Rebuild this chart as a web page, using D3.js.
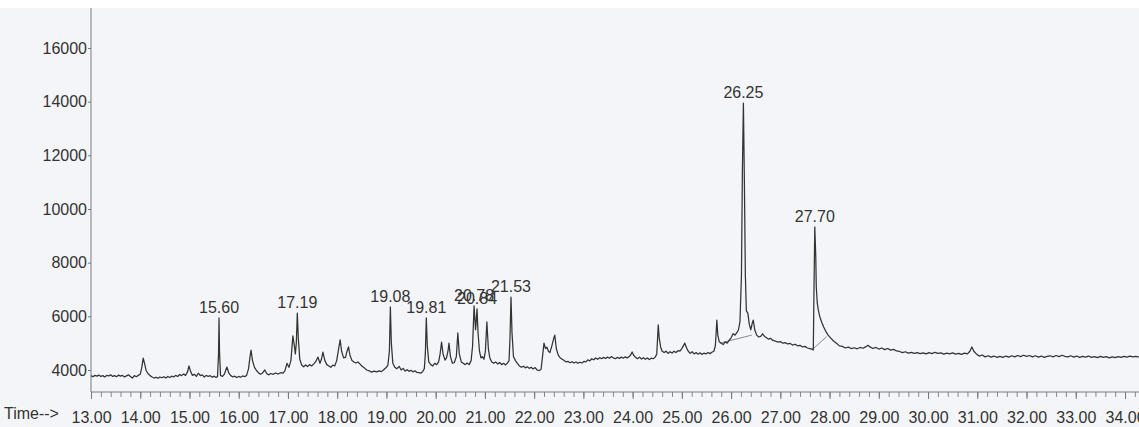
<!DOCTYPE html>
<html>
<head>
<meta charset="utf-8">
<script src="https://cdn.jsdelivr.net/npm/d3@7"></script>
<style>
  html, body { margin: 0; padding: 0; background: #ffffff; }
  svg { display: block; }
  text { font-family: "Liberation Sans", Arial, sans-serif; }
</style>
</head>
<body>
<svg id="chart" width="1139" height="427"></svg>
<script>
// Total ion chromatogram, retention time (min) vs abundance
const ticPoints = [
  [13.00,3790],[13.04,3750],[13.08,3800],[13.12,3770],[13.16,3810],[13.20,3760],[13.24,3790],[13.28,3740],
  [13.32,3800],[13.36,3780],[13.40,3820],[13.44,3760],[13.48,3790],[13.52,3750],[13.56,3810],[13.60,3770],
  [13.64,3800],[13.68,3740],[13.72,3780],[13.76,3820],[13.80,3760],[13.84,3700],[13.88,3790],[13.92,3750],
  [13.96,3800],[14.00,3840],[14.03,4080],[14.06,4440],[14.09,4230],[14.12,3980],[14.16,3860],[14.20,3790],
  [14.24,3740],[14.28,3700],[14.32,3730],[14.36,3690],[14.40,3740],[14.44,3710],[14.48,3750],[14.52,3700],
  [14.56,3760],[14.60,3720],[14.64,3770],[14.68,3740],[14.72,3800],[14.76,3760],[14.80,3830],[14.84,3790],
  [14.88,3850],[14.92,3800],[14.96,3930],[14.99,4150],[15.02,3960],[15.06,3800],[15.10,3840],[15.14,3760],
  [15.18,3880],[15.22,3790],[15.26,3820],[15.30,3740],[15.34,3800],[15.38,3760],[15.42,3790],[15.46,3730],
  [15.50,3770],[15.54,3720],[15.57,3760],[15.59,4600],[15.60,5940],[15.61,4700],[15.63,3800],[15.67,3760],
  [15.71,3850],[15.76,4110],[15.80,3880],[15.84,3790],[15.88,3740],[15.92,3770],[15.96,3720],[16.00,3760],
  [16.04,3730],[16.08,3780],[16.12,3750],[16.16,3800],[16.20,4050],[16.23,4500],[16.25,4740],[16.28,4350],
  [16.32,4100],[16.36,3980],[16.40,3900],[16.44,3840],[16.48,3880],[16.53,4000],[16.57,3860],[16.61,3820],
  [16.65,3870],[16.70,3840],[16.75,3890],[16.80,3850],[16.85,3900],[16.90,3880],[16.94,3980],[16.98,4250],
  [17.02,4100],[17.06,4350],[17.10,5270],[17.13,4900],[17.15,4600],[17.17,5000],[17.19,6120],[17.21,5200],
  [17.24,4400],[17.28,4180],[17.32,4120],[17.36,4190],[17.40,4130],[17.44,4200],[17.48,4150],[17.52,4220],
  [17.56,4300],[17.61,4480],[17.65,4250],[17.68,4400],[17.71,4670],[17.75,4350],[17.79,4200],[17.83,4150],
  [17.87,4100],[17.91,4180],[17.95,4150],[17.99,4350],[18.03,4800],[18.06,5120],[18.09,4700],[18.13,4450],
  [18.17,4480],[18.20,4700],[18.23,4860],[18.26,4550],[18.30,4350],[18.34,4300],[18.38,4260],[18.42,4300],
  [18.46,4230],[18.50,4150],[18.55,4080],[18.60,4000],[18.65,3970],[18.70,3920],[18.75,3960],[18.80,3930],
  [18.85,3970],[18.90,3940],[18.95,4020],[19.00,4100],[19.03,4180],[19.06,4700],[19.08,6350],[19.10,5000],
  [19.13,4250],[19.17,4100],[19.21,4050],[19.26,4130],[19.30,4000],[19.34,4060],[19.38,3960],[19.42,4010],
  [19.46,3950],[19.50,3990],[19.54,3930],[19.58,3970],[19.62,3910],[19.66,3900],[19.70,3880],[19.74,3950],
  [19.77,4050],[19.79,4600],[19.81,5940],[19.83,4900],[19.86,4300],[19.90,4200],[19.94,4150],[19.98,4250],
  [20.02,4200],[20.06,4300],[20.09,4600],[20.12,5040],[20.15,4600],[20.19,4370],[20.22,4450],[20.25,4700],
  [20.27,5000],[20.30,4500],[20.34,4250],[20.38,4280],[20.42,4500],[20.45,5380],[20.48,4600],[20.52,4300],
  [20.56,4250],[20.60,4200],[20.64,4260],[20.68,4200],[20.72,4350],[20.75,4900],[20.78,6390],[20.80,5800],
  [20.81,5500],[20.82,5700],[20.84,6280],[20.86,5400],[20.89,4700],[20.92,4450],[20.95,4500],[20.98,4400],
  [21.01,4700],[21.04,5790],[21.07,4800],[21.10,4450],[21.14,4300],[21.18,4250],[21.22,4300],[21.26,4220],
  [21.30,4280],[21.34,4200],[21.38,4250],[21.42,4190],[21.46,4260],[21.49,4350],[21.51,5200],[21.53,6720],
  [21.55,5400],[21.58,4500],[21.62,4350],[21.66,4250],[21.70,4150],[21.74,4100],[21.78,4140],[21.82,4080],
  [21.86,4120],[21.90,4060],[21.94,4100],[21.98,4040],[22.02,4090],[22.06,4000],[22.10,3980],[22.14,4020],
  [22.17,4500],[22.20,5000],[22.23,4800],[22.26,4850],[22.29,4700],[22.32,4650],[22.36,4900],[22.40,5200],
  [22.42,5300],[22.45,4800],[22.49,4550],[22.53,4450],[22.57,4400],[22.61,4350],[22.65,4300],[22.69,4320],
  [22.73,4270],[22.77,4310],[22.81,4260],[22.85,4300],[22.89,4250],[22.93,4290],[22.97,4260],[23.01,4320],
  [23.05,4300],[23.09,4380],[23.13,4340],[23.17,4420],[23.21,4380],[23.25,4450],[23.29,4400],[23.33,4460],
  [23.37,4420],[23.41,4470],[23.45,4430],[23.49,4480],[23.53,4440],[23.57,4500],[23.61,4450],[23.65,4420],
  [23.69,4470],[23.73,4430],[23.77,4480],[23.81,4440],[23.85,4490],[23.89,4450],[23.93,4500],[23.96,4560],
  [23.99,4670],[24.02,4550],[24.06,4470],[24.10,4420],[24.14,4480],[24.18,4410],[24.22,4460],[24.26,4400],
  [24.30,4450],[24.34,4390],[24.38,4440],[24.42,4420],[24.46,4480],[24.49,4600],[24.51,5300],[24.52,5680],
  [24.54,5200],[24.57,4850],[24.60,4700],[24.64,4650],[24.68,4700],[24.72,4620],[24.76,4680],[24.80,4630],
  [24.84,4700],[24.88,4650],[24.92,4720],[24.96,4700],[25.00,4800],[25.03,4900],[25.06,5000],[25.09,4850],
  [25.13,4700],[25.17,4620],[25.21,4680],[25.25,4600],[25.29,4650],[25.33,4590],[25.37,4640],[25.41,4580],
  [25.45,4630],[25.49,4600],[25.53,4650],[25.57,4610],[25.61,4660],[25.65,4700],[25.68,4900],[25.70,5500],
  [25.71,5860],[25.73,5300],[25.76,5050],[25.80,5000],[25.84,4950],[25.88,5050],[25.92,5000],[25.96,5100],
  [26.00,5200],[26.04,5350],[26.08,5300],[26.12,5400],[26.15,5500],[26.18,5800],[26.21,7500],[26.23,11500],
  [26.25,13950],[26.27,11000],[26.29,7500],[26.31,6200],[26.34,6120],[26.37,5700],[26.40,5500],[26.43,5750],
  [26.45,5860],[26.48,5500],[26.52,5300],[26.56,5230],[26.60,5250],[26.64,5350],[26.68,5250],[26.72,5200],
  [26.76,5150],[26.80,5180],[26.85,5100],[26.90,5080],[26.95,5040],[27.00,5060],[27.05,5000],[27.10,5020],
  [27.15,4970],[27.20,4990],[27.25,4930],[27.30,4960],[27.35,4900],[27.40,4920],[27.45,4860],[27.50,4880],
  [27.55,4820],[27.60,4800],[27.64,4780],[27.67,4750],[27.68,6500],[27.70,9330],[27.72,8200],[27.73,7100],
  [27.75,6500],[27.77,6250],[27.80,6000],[27.84,5780],[27.88,5600],[27.92,5450],[27.97,5300],[28.02,5200],
  [28.08,5080],[28.14,5000],[28.20,4900],[28.26,4880],[28.32,4820],[28.38,4850],[28.44,4800],[28.50,4830],
  [28.56,4790],[28.62,4840],[28.68,4810],[28.74,4870],[28.78,4920],[28.82,4860],[28.88,4800],[28.94,4840],
  [29.00,4780],[29.06,4820],[29.12,4760],[29.18,4800],[29.24,4740],[29.30,4770],[29.36,4710],[29.42,4690],
  [29.48,4650],[29.54,4680],[29.60,4630],[29.66,4660],[29.72,4620],[29.78,4650],[29.84,4610],[29.90,4640],
  [29.96,4600],[30.02,4650],[30.08,4610],[30.14,4660],[30.20,4620],[30.26,4640],[30.32,4590],[30.38,4630],
  [30.44,4600],[30.50,4640],[30.56,4590],[30.62,4620],[30.68,4580],[30.74,4630],[30.80,4600],[30.85,4700],
  [30.89,4860],[30.93,4700],[30.98,4600],[31.04,4520],[31.10,4560],[31.16,4490],[31.22,4530],[31.28,4480],
  [31.34,4520],[31.40,4470],[31.46,4510],[31.52,4470],[31.58,4520],[31.64,4480],[31.70,4530],[31.76,4490],
  [31.82,4540],[31.88,4500],[31.94,4550],[32.00,4510],[32.06,4540],[32.12,4490],[32.18,4530],[32.24,4480],
  [32.30,4520],[32.36,4470],[32.42,4510],[32.48,4530],[32.54,4490],[32.60,4540],[32.66,4500],[32.72,4550],
  [32.78,4510],[32.84,4490],[32.90,4530],[32.96,4480],[33.02,4520],[33.08,4470],[33.14,4510],[33.20,4480],
  [33.26,4520],[33.32,4470],[33.38,4500],[33.44,4460],[33.50,4510],[33.56,4470],[33.62,4500],[33.68,4450],
  [33.74,4490],[33.80,4460],[33.86,4500],[33.92,4470],[33.98,4510],[34.04,4480],[34.10,4520],[34.16,4490],
  [34.22,4510],[34.28,4480]
];

// Retention times annotated above their peaks
const peakLabels = [15.60, 17.19, 19.08, 19.81, 20.78, 20.84, 21.53, 26.25, 27.70];

// Integration baselines drawn under the two large peaks
const integrationLines = [
  [[25.77, 5000], [26.42, 5300]],
  [[27.64, 4750], [27.94, 5240]]
];

// Axis ticks
const yTicks = [4000, 6000, 8000, 10000, 12000, 14000, 16000];
const xMajorTicks = d3.range(13, 35, 1);
const xMinorTicks = d3.range(13, 34.3, 0.2).map(v => +v.toFixed(1));

const W = 1139, H = 427;
const plotLeft = 91, plotTop = 8, plotBottom = 392;

const svg = d3.select("#chart");

// paper tone of the plotting sheet
svg.append("rect").attr("x", 0).attr("y", 0).attr("width", W).attr("height", H).attr("fill", "#ffffff");
svg.append("rect").attr("x", 0).attr("y", plotTop).attr("width", W).attr("height", H - plotTop).attr("fill", "#f4f5f8");

const x = d3.scaleLinear().domain([13, 34]).range([plotLeft, 1125]);
const y = d3.scaleLinear().domain([4000, 16000]).range([370, 48]);

// y axis
const yAxis = d3.axisLeft(y).tickValues(yTicks).tickSize(3).tickPadding(1).tickFormat(d3.format("d"));
const gy = svg.append("g").attr("transform", `translate(${plotLeft},0)`).call(yAxis);
gy.select(".domain").remove();
gy.selectAll(".tick line").attr("stroke", "#777");
gy.selectAll(".tick text").attr("fill", "#333").style("font-size", "16px");
svg.append("line").attr("x1", plotLeft).attr("x2", plotLeft).attr("y1", plotTop).attr("y2", plotBottom)
  .attr("stroke", "#7a7a7a").attr("stroke-width", 1);

// x axis: minor ticks every 0.2 min, labelled major ticks every minute
const gxMinor = svg.append("g").attr("transform", `translate(0,${plotBottom})`)
  .call(d3.axisBottom(x).tickValues(xMinorTicks).tickSize(5).tickFormat(""));
gxMinor.select(".domain").remove();
gxMinor.selectAll(".tick line").attr("stroke", "#888");

const gxMajor = svg.append("g").attr("transform", `translate(0,${plotBottom})`)
  .call(d3.axisBottom(x).tickValues(xMajorTicks).tickSize(7).tickPadding(13).tickFormat(d3.format(".2f")));
gxMajor.select(".domain").remove();
gxMajor.selectAll(".tick line").attr("stroke", "#777");
gxMajor.selectAll(".tick text").attr("fill", "#333").style("font-size", "16px");

svg.append("line").attr("x1", plotLeft).attr("x2", W).attr("y1", plotBottom).attr("y2", plotBottom)
  .attr("stroke", "#7a7a7a").attr("stroke-width", 1);

svg.append("text").attr("x", 4).attr("y", 419).attr("fill", "#333")
  .style("font-size", "16px").text("Time-->");

// integration baselines
svg.append("g").selectAll("line").data(integrationLines).join("line")
  .attr("x1", d => x(d[0][0])).attr("y1", d => y(d[0][1]))
  .attr("x2", d => x(d[1][0])).attr("y2", d => y(d[1][1]))
  .attr("stroke", "#8a8a8a").attr("stroke-width", 1);

// chromatogram trace
const line = d3.line().x(d => x(d[0])).y(d => y(d[1]));
svg.append("path").datum(ticPoints).attr("d", line)
  .attr("fill", "none").attr("stroke", "#333").attr("stroke-width", 1.25).attr("stroke-linejoin", "round");

// peak retention-time labels
const peakValue = t => ticPoints.find(p => Math.abs(p[0] - t) < 1e-6)[1];
svg.append("g").selectAll("text").data(peakLabels).join("text")
  .attr("x", t => x(t)).attr("y", t => y(peakValue(t)) - 5)
  .attr("text-anchor", "middle").attr("fill", "#333")
  .style("font-size", "16px").text(t => t.toFixed(2));
</script>
</body>
</html>
